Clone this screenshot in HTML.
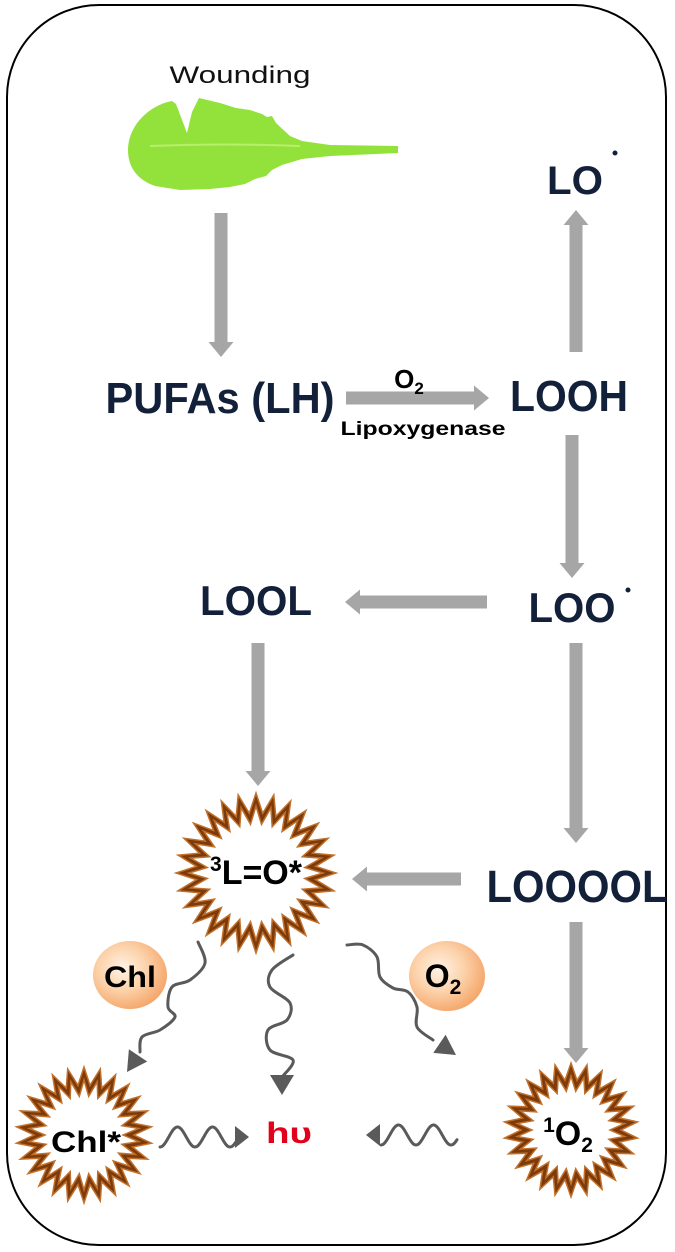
<!DOCTYPE html>
<html><head><meta charset="utf-8"><style>
html,body{margin:0;padding:0;background:#fff;}
svg{display:block;}
.t{font-family:"Liberation Sans",sans-serif;font-weight:bold;fill:#13203a;}
.k{font-family:"Liberation Sans",sans-serif;font-weight:bold;fill:#000;}
</style></head><body>
<svg id="s" width="675" height="1252" viewBox="0 0 675 1252" xmlns="http://www.w3.org/2000/svg">
<defs>
<radialGradient id="og" cx="0.4" cy="0.4" r="0.65">
<stop offset="0" stop-color="#fff3e6"/><stop offset="0.5" stop-color="#fcd2aa"/><stop offset="1" stop-color="#f4a366"/>
</radialGradient>
</defs>
<rect x="7" y="5" width="659" height="1240" rx="92" ry="92" fill="#fff" stroke="#000" stroke-width="2"/>

<text x="240" y="83" text-anchor="middle" font-family="Liberation Sans, sans-serif" font-size="24" fill="#111" textLength="141" lengthAdjust="spacingAndGlyphs">Wounding</text>
<path d="M128,150 C128,125 150,105 172,101 L176,104 L187,133 L192,112 L199,98 L220,103 L236,108 L250,110 L262,114 L267,117 L272,116 L276,123 L290,136 L302,141 L330,145 L398,146 L398,153 L330,156 L302,159 L282,165 L272,170 L266,176 L255,179 L245,184 L230,187 L210,189 L180,190 L155,186 C138,180 128,168 128,150 Z" fill="#93e23c"/>
<path d="M150,146 Q230,143 300,146" stroke="#b8ef6a" stroke-width="2" fill="none"/>

<g id="arrows" fill="#a6a6a6"></g>

<text class="t" x="220" y="413" text-anchor="middle" font-size="44" textLength="229" lengthAdjust="spacingAndGlyphs">PUFAs (LH)</text>
<text x="409" y="388" text-anchor="middle" font-family="Liberation Sans, sans-serif" font-weight="bold" font-size="26" fill="#000">O<tspan font-size="17" dy="6">2</tspan></text>
<text class="k" x="423" y="435" text-anchor="middle" font-size="19" textLength="165" lengthAdjust="spacingAndGlyphs">Lipoxygenase</text>
<text class="t" x="569" y="411" text-anchor="middle" font-size="44" textLength="118" lengthAdjust="spacingAndGlyphs">LOOH</text>
<text class="t" x="575" y="194" text-anchor="middle" font-size="40" textLength="56" lengthAdjust="spacingAndGlyphs">LO</text>
<circle cx="615" cy="153" r="2.5" fill="#13203a"/>
<text class="t" x="256" y="615" text-anchor="middle" font-size="42" textLength="112" lengthAdjust="spacingAndGlyphs">LOOL</text>
<text class="t" x="572" y="622" text-anchor="middle" font-size="42" textLength="87" lengthAdjust="spacingAndGlyphs">LOO</text>
<circle cx="628" cy="590" r="2.5" fill="#13203a"/>
<text class="t" x="577" y="902" text-anchor="middle" font-size="45" textLength="181" lengthAdjust="spacingAndGlyphs">LOOOOL</text>

<g id="stars"></g>
<text class="k" x="256" y="884" text-anchor="middle" font-size="34"><tspan font-size="21" dy="-13">3</tspan><tspan dy="13">L=O*</tspan></text>
<text class="k" x="86" y="1152" text-anchor="middle" font-size="30" textLength="70" lengthAdjust="spacingAndGlyphs">Chl*</text>
<text class="k" x="568" y="1145" text-anchor="middle" font-size="34"><tspan font-size="21" dy="-13">1</tspan><tspan dy="13">O</tspan><tspan font-size="21" dy="7">2</tspan></text>
<text x="289" y="1143" text-anchor="middle" font-family="Liberation Sans, sans-serif" font-weight="bold" font-size="30" fill="#e3001b" textLength="46" lengthAdjust="spacingAndGlyphs">hυ</text>

<ellipse cx="130" cy="975" rx="37" ry="34" fill="url(#og)"/>
<text class="k" x="130" y="987" text-anchor="middle" font-size="30" textLength="52" lengthAdjust="spacingAndGlyphs">Chl</text>
<ellipse cx="447" cy="976" rx="38" ry="35" fill="url(#og)"/>
<text class="k" x="443" y="987" text-anchor="middle" font-size="32">O<tspan font-size="21" dy="7">2</tspan></text>

<g id="waves" stroke="#5a5a5a" stroke-width="3" fill="none" stroke-linecap="round"></g>
<g id="heads" fill="#5a5a5a"></g>
</svg>
<script>
var NS="http://www.w3.org/2000/svg";
function el(p,tag,a){var e=document.createElementNS(NS,tag);for(var k in a)e.setAttribute(k,a[k]);document.getElementById(p).appendChild(e);return e;}
function arr(x1,y1,x2,y2){var dx=x2-x1,dy=y2-y1,L=Math.hypot(dx,dy),ux=dx/L,uy=dy/L,px=-uy,py=ux;
var w=6.5,hw=12.5,hl=15;var bx=x2-ux*hl,by=y2-uy*hl;
var pts=[[x1+px*w,y1+py*w],[bx+px*w,by+py*w],[bx+px*hw,by+py*hw],[x2,y2],[bx-px*hw,by-py*hw],[bx-px*w,by-py*w],[x1-px*w,y1-py*w]];
el("arrows","polygon",{points:pts.map(function(p){return p[0].toFixed(1)+","+p[1].toFixed(1)}).join(" ")});}
arr(221,213,221,357);
arr(576,352,576,210);
arr(346,398,489,398);
arr(572,435,572,578);
arr(487,602,345,602);
arr(258,643,258,786);
arr(576,643,576,843);
arr(461,879,352,879);
arr(576,922,576,1063);
function star(cx,cy,ro,ri,n,fill,st){var pts=[];for(var i=0;i<2*n;i++){var a=Math.PI*i/n-Math.PI/2;var r=i%2?ri:ro;pts.push((cx+r*Math.cos(a)).toFixed(1)+","+(cy+r*Math.sin(a)).toFixed(1));}
var o={points:pts.join(" "),fill:fill};if(st){o.stroke=st;o["stroke-width"]=1.5;o["stroke-linejoin"]="miter";}
el("stars","polygon",o);}
function burst(cx,cy,ro,ri,n){star(cx,cy,ro,ri,n,"#7d3a0a","#c0702a");star(cx,cy,ro-13,ri-11,n,"#fff","#c0702a");}
burst(256,873,80,60,28);
burst(84,1135,68,50,26);
burst(571,1130,67,50,26);
function smooth(p){var d="M"+p[0][0]+","+p[0][1];for(var i=0;i<p.length-1;i++){var p0=p[i-1]||p[i],p1=p[i],p2=p[i+1],p3=p[i+2]||p2;
var c1=[p1[0]+(p2[0]-p0[0])/6,p1[1]+(p2[1]-p0[1])/6],c2=[p2[0]-(p3[0]-p1[0])/6,p2[1]-(p3[1]-p1[1])/6];
d+=" C"+c1[0].toFixed(1)+","+c1[1].toFixed(1)+" "+c2[0].toFixed(1)+","+c2[1].toFixed(1)+" "+p2[0]+","+p2[1];}
el("waves","path",{d:d});}
function head(tx,ty,fx,fy,hw,hl){var dx=tx-fx,dy=ty-fy,L=Math.hypot(dx,dy),ux=dx/L,uy=dy/L,px=-uy,py=ux;var bx=tx-ux*hl,by=ty-uy*hl;
el("heads","polygon",{points:[[tx,ty],[bx+px*hw,by+py*hw],[bx-px*hw,by-py*hw]].map(function(p){return p[0].toFixed(1)+","+p[1].toFixed(1)}).join(" ")});}
smooth([[198,942],[205,963],[190,980],[172,987],[168,1007],[175,1017],[160,1030],[142,1037],[140,1052]]);
head(127,1072,145,1045,11,20);
smooth([[293,955],[272,970],[270,987],[290,1003],[287,1020],[268,1030],[270,1050],[293,1060],[283,1076]]);
head(282,1095,282,1070,12,20);
smooth([[347,945],[363,945],[377,957],[380,977],[393,988],[408,992],[417,1007],[417,1027],[433,1040]]);
head(456,1055,428,1036,11,20);
function hwave(x0,x1,y,amp,wl,ph){var p=[];for(var x=x0;x<=x1+0.01;x+=1){p.push([x,y+amp*Math.sin((x-x0)*2*Math.PI/wl+ph)]);}
var d="M"+p.map(function(q){return q[0].toFixed(1)+","+q[1].toFixed(1)}).join(" L");el("waves","path",{d:d});}
hwave(160,236,1137,10,35,Math.PI/2);
head(249,1137,230,1137,11,14);
hwave(381,457,1135,10,35,Math.PI/2);
head(366,1135,385,1135,11,14);
</script>
</body></html>
